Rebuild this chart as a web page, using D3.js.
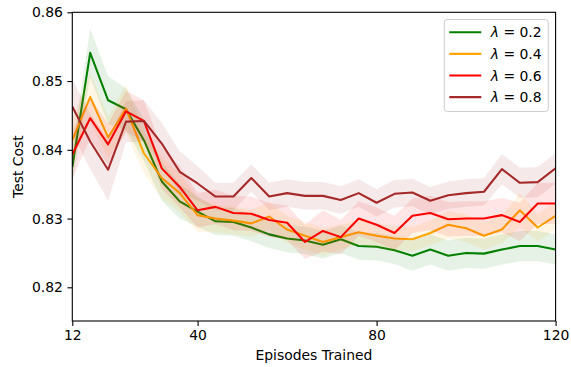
<!DOCTYPE html>
<html>
<head>
<meta charset="utf-8">
<script src="https://cdn.jsdelivr.net/npm/d3@7"></script>
<style>
  body { margin: 0; background: #fff; }
  text { font-family: "DejaVu Sans", sans-serif; fill: #000; }
</style>
</head>
<body>
<div id="chart"></div>
<script>
// episodes on x
var episodes = [12,16,20,24,28,32,36,40,44,48,52,56,60,64,68,72,76,80,84,88,92,96,100,104,108,112,116,120];

var lambdas = ["0.2", "0.4", "0.6", "0.8"];
var colors = ["#008000", "#ffa500", "#ff0000", "#a52a2a"];

// mean test cost
var cost02 = [0.8375,0.8541,0.8472,0.8459,0.8414,0.8354,0.8325,0.8310,0.8296,0.8295,0.8287,0.8277,0.8271,0.8268,0.8262,0.8270,0.8260,0.8259,0.8254,0.8246,0.8255,0.8246,0.8250,0.8249,0.8255,0.8260,0.8260,0.8255];
var cost04 = [0.8414,0.8477,0.8418,0.8460,0.8395,0.8359,0.8337,0.8305,0.8300,0.8297,0.8293,0.8303,0.8284,0.8275,0.8266,0.8273,0.8280,0.8275,0.8271,0.8270,0.8279,0.8291,0.8286,0.8275,0.8284,0.8312,0.8287,0.8304];
var cost06 = [0.8393,0.8446,0.8408,0.8456,0.8442,0.8373,0.8346,0.8312,0.8317,0.8308,0.8307,0.8298,0.8294,0.8266,0.8282,0.8273,0.8300,0.8291,0.8279,0.8304,0.8308,0.8299,0.8300,0.8300,0.8305,0.8295,0.8322,0.8322];
var cost08 = [0.8463,0.8412,0.8371,0.8441,0.8442,0.8409,0.8368,0.8351,0.8332,0.8332,0.8359,0.8332,0.8337,0.8333,0.8333,0.8327,0.8337,0.8323,0.8336,0.8338,0.8326,0.8334,0.8337,0.8339,0.8372,0.8352,0.8353,0.8373];

// half width of the shaded bands
var spread02 = [0.0025,0.0035,0.0035,0.003,0.003,0.0028,0.0025,0.0022,0.002,0.002,0.002,0.002,0.002,0.002,0.002,0.002,0.002,0.002,0.002,0.0022,0.0022,0.0022,0.0022,0.0022,0.0022,0.0022,0.0022,0.0022];
var spread04 = [0.003,0.0035,0.003,0.0035,0.003,0.003,0.0028,0.0025,0.002,0.002,0.002,0.002,0.002,0.002,0.002,0.0018,0.0018,0.0018,0.0018,0.0018,0.0018,0.002,0.002,0.002,0.002,0.0025,0.002,0.002];
var spread06 = [0.0035,0.003,0.003,0.003,0.003,0.003,0.003,0.0025,0.0025,0.0025,0.0025,0.0025,0.0025,0.0025,0.003,0.0025,0.0025,0.0025,0.0025,0.0025,0.0025,0.0025,0.0025,0.0025,0.0025,0.0028,0.003,0.003];
var spread08 = [0.004,0.004,0.0045,0.003,0.003,0.003,0.003,0.0025,0.002,0.002,0.002,0.002,0.002,0.002,0.002,0.002,0.002,0.002,0.002,0.002,0.002,0.002,0.002,0.002,0.0022,0.0022,0.0022,0.0022];

var xTicks = [12, 40, 80, 120];
var yTicks = [0.82, 0.83, 0.84, 0.85, 0.86];

var series = [cost02, cost04, cost06, cost08].map(function(vals, i) {
  var sp = [spread02, spread04, spread06, spread08][i];
  return {
    name: lambdas[i],
    color: colors[i],
    points: episodes.map(function(e, j) { return {x: e, y: vals[j], s: sp[j]}; })
  };
});

var width = 571, height = 367;
var margin = {top: 12.3, right: 15.4, bottom: 46, left: 72.3};

var svg = d3.select("#chart").append("svg")
  .attr("width", width)
  .attr("height", height);

var x = d3.scaleLinear().domain([12, 120]).range([margin.left, width - margin.right]);
var y = d3.scaleLinear().domain([0.8151, 0.86]).range([height - margin.bottom, margin.top]);

svg.append("clipPath").attr("id", "clip")
  .append("rect")
  .attr("x", x(12)).attr("y", y(0.86))
  .attr("width", x(120) - x(12)).attr("height", y(0.8151) - y(0.86));

var plot = svg.append("g").attr("clip-path", "url(#clip)");

var area = d3.area()
  .x(function(d) { return x(d.x); })
  .y0(function(d) { return y(d.y - d.s); })
  .y1(function(d) { return y(d.y + d.s); });

var line = d3.line()
  .x(function(d) { return x(d.x); })
  .y(function(d) { return y(d.y); });

series.forEach(function(s) {
  plot.append("path")
    .attr("d", line(s.points))
    .attr("fill", "none")
    .attr("stroke", s.color)
    .attr("stroke-width", 2.08)
    .attr("stroke-linejoin", "round");
  plot.append("path")
    .attr("d", area(s.points))
    .attr("fill", s.color)
    .attr("fill-opacity", 0.1)
    .attr("stroke", "none");
});

// axes
var xAxis = d3.axisBottom(x).tickValues(xTicks).tickSize(4.9).tickPadding(4.5).tickFormat(d3.format("d"));
var yAxis = d3.axisLeft(y).tickValues(yTicks).tickSize(4.9).tickPadding(4.5).tickFormat(d3.format(".2f"));

var gx = svg.append("g")
  .attr("transform", "translate(0," + y(0.8151) + ")")
  .call(xAxis);
var gy = svg.append("g")
  .attr("transform", "translate(" + x(12) + ",0)")
  .call(yAxis);

[gx, gy].forEach(function(g) {
  g.select(".domain").remove();
  g.selectAll(".tick line").attr("stroke", "#000").attr("stroke-width", 1.1);
  g.selectAll(".tick text").style("font-size", "13.9px").style("font-family", "DejaVu Sans");
});

// spines
svg.append("rect")
  .attr("x", x(12)).attr("y", y(0.86))
  .attr("width", x(120) - x(12)).attr("height", y(0.8151) - y(0.86))
  .attr("fill", "none")
  .attr("stroke", "#000")
  .attr("stroke-width", 1.1);

svg.append("text")
  .attr("x", (x(12) + x(120)) / 2)
  .attr("y", 360)
  .attr("text-anchor", "middle")
  .style("font-size", "13.9px")
  .text("Episodes Trained");

svg.append("text")
  .attr("transform", "translate(23," + (y(0.86) + y(0.8151)) / 2 + ") rotate(-90)")
  .attr("text-anchor", "middle")
  .style("font-size", "13.9px")
  .text("Test Cost");

// legend
var legend = svg.append("g").attr("transform", "translate(444.3,19.5)");
legend.append("rect")
  .attr("width", 104).attr("height", 92)
  .attr("rx", 3).attr("ry", 3)
  .attr("fill", "#fff").attr("fill-opacity", 0.8)
  .attr("stroke", "#cccccc").attr("stroke-width", 1);

var items = legend.selectAll(".item")
  .data(series)
  .enter().append("g")
  .attr("class", "item")
  .attr("transform", function(d, i) { return "translate(0," + (12.8 + i * 21.6) + ")"; });

items.append("line")
  .attr("x1", 5).attr("x2", 37)
  .attr("stroke", function(d) { return d.color; })
  .attr("stroke-width", 2.08);

var lt = items.append("text")
  .attr("x", 46.5)
  .attr("y", 5)
  .style("font-size", "13.9px");
lt.append("tspan").style("font-style", "italic").text("λ");
lt.append("tspan").text(function(d) { return " = " + d.name; });
</script>
</body>
</html>
